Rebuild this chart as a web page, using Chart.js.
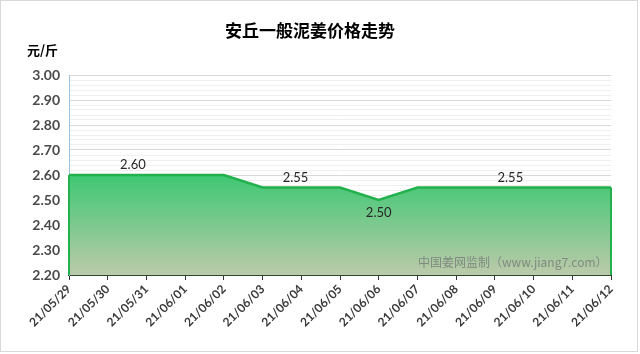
<!DOCTYPE html>
<html><head><meta charset="utf-8">
<script src="https://cdn.jsdelivr.net/npm/chart.js@4.4.1/dist/chart.umd.min.js"></script>
<style>html,body{margin:0;padding:0;background:#fff;}#wrap{width:640px;height:354px;position:relative;}</style>
</head><body><div id="wrap"><canvas id="c" width="640" height="354"></canvas></div>
<script>
const categories = ['21/05/29','21/05/30','21/05/31','21/06/01','21/06/02','21/06/03','21/06/04','21/06/05','21/06/06','21/06/07','21/06/08','21/06/09','21/06/10','21/06/11','21/06/12'];
const prices = [2.60,2.60,2.60,2.60,2.60,2.55,2.55,2.55,2.50,2.55,2.55,2.55,2.55,2.55,2.55];
const yMin = 2.20, yMax = 3.00, yMinorStep = 0.02;
const titleText = '安丘一般泥姜价格走势';
const unitText = '元/斤';
const watermarkText = '中国姜网监制（www.jiang7.com）';
// label anchor (category position) and placement
const labelAt = [1.65, 5.85, 8, 11.4];
const labelBelow = [false, false, true, false];

const isMajor = v => Math.abs(Math.round(v*10) - v*10) < 1e-6;

const deco = {
  id:'deco',
  beforeDraw(chart){
    const c = chart.ctx;
    c.save();
    c.fillStyle='#fff'; c.fillRect(0,0,chart.width,chart.height);
    c.restore();
  },
  afterDatasetsDraw(chart){
    const c = chart.ctx, x = chart.scales.x, y = chart.scales.y;
    c.save();
    c.strokeStyle='#22b14c'; c.lineWidth=2;
    const x0 = x.getPixelForValue(0), x1 = x.getPixelForValue(prices.length-1);
    c.beginPath();
    c.moveTo(x0, y.getPixelForValue(prices[0])); c.lineTo(x0, y.bottom);
    c.moveTo(x1, y.getPixelForValue(prices[prices.length-1])); c.lineTo(x1, y.bottom);
    c.stroke();
    c.fillStyle='#262626'; c.font='13px Lato'; c.textAlign='center'; c.textBaseline='middle';
    labelAt.forEach((a,i)=>{
      const v = prices[Math.round(a)];
      const py = y.getPixelForValue(v) + (labelBelow[i] ? 13 : -10);
      c.fillText(v.toFixed(2), x.getPixelForValue(a), py);
    });
    c.fillStyle='#7f8a7f'; c.font='12px "Noto Sans CJK SC"'; c.textAlign='left';
    c.fillText(watermarkText, 418, 262);
    c.restore();
  },
  afterDraw(chart){
    const c = chart.ctx;
    c.save();
    c.fillStyle='#000'; c.font='bold 17px "Noto Sans CJK SC"'; c.textAlign='center'; c.textBaseline='middle';
    c.fillText(titleText, 310, 31);
    c.font='bold 13px "Noto Sans CJK SC"'; c.textAlign='left';
    c.fillText(unitText, 27, 50);
    c.strokeStyle='#d9d9d9'; c.lineWidth=1;
    c.strokeRect(0.5,0.5,637,351);
    c.restore();
  }
};

new Chart(document.getElementById('c'), {
  type:'line',
  data:{ labels:categories, datasets:[{
    data:prices,
    borderColor:'#22b14c', borderWidth:2.5, pointRadius:0, tension:0,
    fill:'start',
    backgroundColor:(ctx)=>{
      const a = ctx.chart.chartArea; if(!a) return 'rgba(60,200,115,1)';
      const y = ctx.chart.scales.y;
      const g = ctx.chart.ctx.createLinearGradient(0, y.getPixelForValue(2.60), 0, a.bottom);
      g.addColorStop(0,'rgb(62,200,115)');
      g.addColorStop(1,'rgb(188,202,170)');
      return g;
    }
  }]},
  options:{
    responsive:false, animation:false, devicePixelRatio:1,
    layout:{padding:{left:0,top:75,right:29,bottom:0}},
    plugins:{legend:{display:false}, tooltip:{enabled:false}, title:{display:false}},
    scales:{
      x:{
        offset:false,
        grid:{drawOnChartArea:false, drawTicks:true, tickLength:5, color:'#333', lineWidth:1},
        border:{color:'#2d4a2d', width:2},
        ticks:{maxRotation:45, minRotation:45, autoSkip:false, color:'#3a3a3a', font:{size:12, weight:'bold', family:'Lato'}, padding:2},
        afterFit(s){ s.height = 79; }
      },
      y:{
        min:yMin, max:yMax,
        grid:{drawTicks:false, color:(ctx)=> isMajor(ctx.tick.value) ? '#d9d9d9' : '#efefef', lineWidth:1},
        border:{color:'#9fc0dd', width:1},
        ticks:{stepSize:yMinorStep, autoSkip:false, color:'#4a4a4a', font:{size:14, weight:'bold', family:'Lato'}, padding:9,
          callback:(v)=> isMajor(v) ? v.toFixed(2) : ''},
        afterFit(s){ s.width = 69; }
      }
    }
  },
  plugins:[deco]
});
</script></body></html>
